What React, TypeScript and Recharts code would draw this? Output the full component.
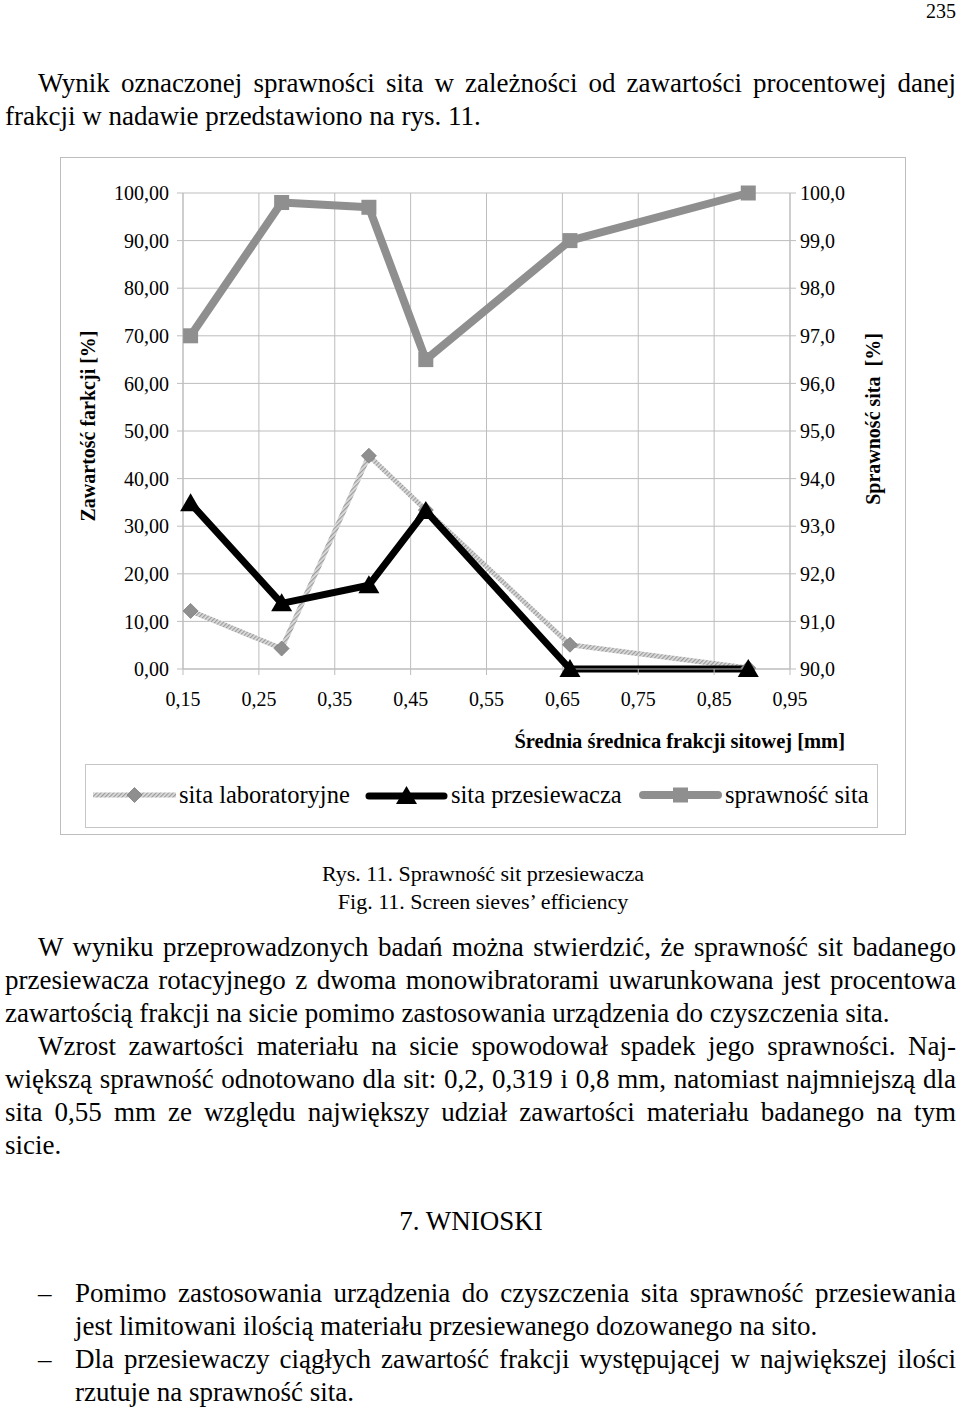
import { CartesianGrid, Legend, Line, LineChart, XAxis, YAxis } from "recharts";

// mean sieve fraction diameter [mm]
const diameters = [0.16, 0.28, 0.395, 0.47, 0.66, 0.895];
// fraction content on laboratory sieves [%]
const labSieves = [12.2, 4.3, 44.8, 33.4, 5.1, 0.2];
// fraction content on screener sieves [%]
const screenSieves = [34.8, 13.8, 17.6, 33.2, 0, 0];
// sieve efficiency [%] (right axis)
const efficiency = [97.0, 99.8, 99.7, 96.5, 99.0, 100.0];

const xTicks = [0.15, 0.25, 0.35, 0.45, 0.55, 0.65, 0.75, 0.85, 0.95];
const leftTicks = [0, 10, 20, 30, 40, 50, 60, 70, 80, 90, 100];
const rightTicks = [90, 91, 92, 93, 94, 95, 96, 97, 98, 99, 100];
const seriesNames = ["sita laboratoryjne", "sita przesiewacza", "sprawność sita"];

const chartData = diameters.map((d, i) => ({
  d,
  lab: labSieves[i],
  screen: screenSieves[i],
  eff: efficiency[i],
}));

const SERIF = '"Liberation Serif", "Times New Roman", serif';
const GRID = "#bdbdbd";
const EFF_GRAY = "#8f8f8f";

const comma = (v: number, digits: number) => v.toFixed(digits).replace(".", ",");

function diamondDot(props: any) {
  const { cx, cy, index } = props;
  const r = 7.5;
  return (
    <polygon
      key={`lab-${index}`}
      points={`${cx},${cy - r} ${cx + r},${cy} ${cx},${cy + r} ${cx - r},${cy}`}
      fill="#8f8f8f"
      stroke="#7d7d7d"
      strokeWidth={0.8}
    />
  );
}

function triangleDot(props: any) {
  const { cx, cy, index } = props;
  return (
    <polygon
      key={`scr-${index}`}
      points={`${cx},${cy - 10} ${cx + 10.5},${cy + 8} ${cx - 10.5},${cy + 8}`}
      fill="#000"
    />
  );
}

function squareDot(props: any) {
  const { cx, cy, index } = props;
  return <rect key={`eff-${index}`} x={cx - 7.5} y={cy - 7.5} width={15} height={15} fill={EFF_GRAY} />;
}

function leftTitle(props: any) {
  const vb = props.viewBox ?? { x: 0, y: 36, width: 123, height: 476 };
  const x = vb.x + 28;
  const y = vb.y + vb.height / 2 - 5;
  return (
    <text x={x} y={y} transform={`rotate(-90 ${x} ${y})`} textAnchor="middle" dominantBaseline="central" fontSize={20} fontWeight="bold" fill="#000">
      Zawartość farkcji [%]
    </text>
  );
}

function rightTitle(props: any) {
  const vb = props.viewBox ?? { x: 730, y: 36, width: 116, height: 476 };
  const x = vb.x + 83;
  const y = vb.y + vb.height / 2 - 12;
  return (
    <text x={x} y={y} transform={`rotate(-90 ${x} ${y})`} textAnchor="middle" dominantBaseline="central" fontSize={20} fontWeight="bold" fill="#000">
      {"Sprawność sita\u00a0 [%]"}
    </text>
  );
}

function xTitle(props: any) {
  const vb = props.viewBox ?? { x: 123, y: 512, width: 607, height: 166 };
  return (
    <text x={vb.x + vb.width + 55} y={vb.y + 72} textAnchor="end" dominantBaseline="central" fontSize={20.5} fontWeight="bold" fill="#000">
      Średnia średnica frakcji sitowej [mm]
    </text>
  );
}

function LegendIcon({ kind }: { kind: number }) {
  return (
    <svg width={83} height={24} style={{ display: "block" }}>
      {kind === 0 && (
        <>
          <line x1={0} y1={12} x2={83} y2={12} stroke="url(#hatch)" strokeWidth={5} />
          <polygon points="41.5,4.5 49,12 41.5,19.5 34,12" fill="#8f8f8f" stroke="#7d7d7d" strokeWidth={0.8} />
        </>
      )}
      {kind === 1 && (
        <>
          <line x1={4} y1={13} x2={79} y2={13} stroke="#000" strokeWidth={7} strokeLinecap="round" />
          <polygon points="41.5,3 52,21 31,21" fill="#000" />
        </>
      )}
      {kind === 2 && (
        <>
          <line x1={4} y1={12} x2={79} y2={12} stroke={EFF_GRAY} strokeWidth={8} strokeLinecap="round" />
          <rect x={34} y={4.5} width={15} height={15} fill={EFF_GRAY} />
        </>
      )}
    </svg>
  );
}

const legendLefts = [7, 279, 553];

function renderLegend() {
  return (
    <div
      style={{
        position: "relative",
        width: "100%",
        height: "100%",
        boxSizing: "border-box",
        border: "1.5px solid #c6c6c6",
        fontSize: 24.5,
        color: "#000",
      }}
    >
      {seriesNames.map((name, i) => (
        <div key={name} style={{ position: "absolute", left: legendLefts[i], top: 17, display: "flex", alignItems: "center" }}>
          <LegendIcon kind={i} />
          <span style={{ marginLeft: 3, lineHeight: "26px", whiteSpace: "nowrap" }}>{name}</span>
        </div>
      ))}
    </div>
  );
}

function SiftChart() {
  return (
    <LineChart width={846} height={678} data={chartData} margin={{ top: 36, right: 0, bottom: 0, left: 0 }}>
      <defs>
        <pattern id="hatch" patternUnits="userSpaceOnUse" width={3} height={3} patternTransform="rotate(45)">
          <rect width={3} height={3} fill="#dddddd" />
          <rect width={1.2} height={3} fill="#9a9a9a" />
        </pattern>
      </defs>
      <CartesianGrid yAxisId="left" stroke={GRID} strokeWidth={1} />
      <XAxis
        type="number"
        dataKey="d"
        domain={[0.15, 0.95]}
        ticks={xTicks}
        interval={0}
        height={166}
        stroke={GRID}
        tickSize={6}
        tickMargin={17}
        tick={{ fontSize: 20, fill: "#000" }}
        tickFormatter={(v: number) => comma(v, 2)}
        label={{ content: xTitle }}
      />
      <YAxis
        yAxisId="left"
        domain={[0, 100]}
        ticks={leftTicks}
        interval={0}
        width={123}
        stroke={GRID}
        tickSize={6}
        tickMargin={8}
        tick={{ fontSize: 20, fill: "#000" }}
        tickFormatter={(v: number) => comma(v, 2)}
        label={{ content: leftTitle }}
      />
      <YAxis
        yAxisId="right"
        orientation="right"
        domain={[90, 100]}
        ticks={rightTicks}
        interval={0}
        width={116}
        stroke={GRID}
        tickSize={6}
        tickMargin={4}
        tick={{ fontSize: 20, fill: "#000" }}
        tickFormatter={(v: number) => comma(v, 1)}
        label={{ content: rightTitle }}
      />
      <Legend
        verticalAlign="middle"
        align="center"
        content={renderLegend}
        wrapperStyle={{ position: "absolute", left: 25, top: 607, width: 793, height: 64 }}
      />
      <Line
        yAxisId="left"
        dataKey="lab"
        name={seriesNames[0]}
        stroke="url(#hatch)"
        strokeWidth={5}
        strokeLinejoin="round"
        dot={diamondDot}
        activeDot={false}
        isAnimationActive={false}
      />
      <Line
        yAxisId="left"
        dataKey="screen"
        name={seriesNames[1]}
        stroke="#000"
        strokeWidth={7}
        strokeLinejoin="round"
        dot={triangleDot}
        activeDot={false}
        isAnimationActive={false}
      />
      <Line
        yAxisId="right"
        dataKey="eff"
        name={seriesNames[2]}
        stroke={EFF_GRAY}
        strokeWidth={8}
        strokeLinejoin="round"
        dot={squareDot}
        activeDot={false}
        isAnimationActive={false}
      />
    </LineChart>
  );
}

type TextLine = { text: string; top: number; left: number; justify: boolean };

const LINE_H = 33;

const bodyLines: TextLine[] = [
  { text: "Wynik oznaczonej sprawności sita w zależności od zawartości procentowej danej", top: 83, left: 38, justify: true },
  { text: "frakcji w nadawie przedstawiono na rys. 11.", top: 116, left: 5, justify: false },
  { text: "W wyniku przeprowadzonych badań można stwierdzić, że sprawność sit badanego", top: 947, left: 38, justify: true },
  { text: "przesiewacza rotacyjnego z dwoma monowibratorami uwarunkowana jest procentowa", top: 980, left: 5, justify: true },
  { text: "zawartością frakcji na sicie pomimo zastosowania urządzenia do czyszczenia sita.", top: 1013, left: 5, justify: false },
  { text: "Wzrost zawartości materiału na sicie spowodował spadek jego sprawności. Naj-", top: 1046, left: 38, justify: true },
  { text: "większą sprawność odnotowano dla sit: 0,2, 0,319 i 0,8 mm, natomiast najmniejszą dla", top: 1079, left: 5, justify: true },
  { text: "sita 0,55 mm ze względu największy udział zawartości materiału badanego na tym", top: 1112, left: 5, justify: true },
  { text: "sicie.", top: 1145, left: 5, justify: false },
  { text: "Pomimo zastosowania urządzenia do czyszczenia sita sprawność przesiewania", top: 1293, left: 75, justify: true },
  { text: "jest limitowani ilością materiału przesiewanego dozowanego na sito.", top: 1326, left: 75, justify: false },
  { text: "Dla przesiewaczy ciągłych zawartość frakcji występującej w największej ilości", top: 1359, left: 75, justify: true },
  { text: "rzutuje na sprawność sita.", top: 1392, left: 75, justify: false },
];

const dashTops = [1293, 1359];

export default function App() {
  return (
    <div
      style={{
        position: "absolute",
        left: 0,
        top: 0,
        width: 960,
        height: 1407,
        background: "#fff",
        fontFamily: SERIF,
        color: "#000",
        overflow: "hidden",
      }}
    >
      <div style={{ position: "absolute", right: 4, top: 1, fontSize: 20, lineHeight: "20px" }}>235</div>

      {bodyLines.map((l) => (
        <div
          key={l.text}
          style={{
            position: "absolute",
            left: l.left,
            top: l.top - LINE_H / 2,
            width: 956 - l.left,
            height: LINE_H,
            lineHeight: `${LINE_H}px`,
            fontSize: 27,
            textAlign: l.justify ? "justify" : "left",
            textAlignLast: l.justify ? "justify" : "left",
          }}
        >
          {l.text}
        </div>
      ))}

      {dashTops.map((t) => (
        <div key={t} style={{ position: "absolute", left: 38, top: t - LINE_H / 2, lineHeight: `${LINE_H}px`, fontSize: 27 }}>
          –
        </div>
      ))}

      <div style={{ position: "absolute", left: 0, width: 942, top: 1221 - LINE_H / 2, lineHeight: `${LINE_H}px`, fontSize: 27, textAlign: "center" }}>
        7. WNIOSKI
      </div>

      <div style={{ position: "absolute", left: 0, width: 966, top: 860, fontSize: 22, lineHeight: "28px", textAlign: "center" }}>
        <div>Rys. 11. Sprawność sit przesiewacza</div>
        <div>Fig. 11. Screen sieves’ efficiency</div>
      </div>

      <div
        style={{
          position: "absolute",
          left: 60,
          top: 157,
          width: 846,
          height: 678,
          boxSizing: "border-box",
          border: "1.5px solid #bdbdbd",
        }}
      />
      <div style={{ position: "absolute", left: 60, top: 157 }}>
        <SiftChart />
      </div>
    </div>
  );
}
